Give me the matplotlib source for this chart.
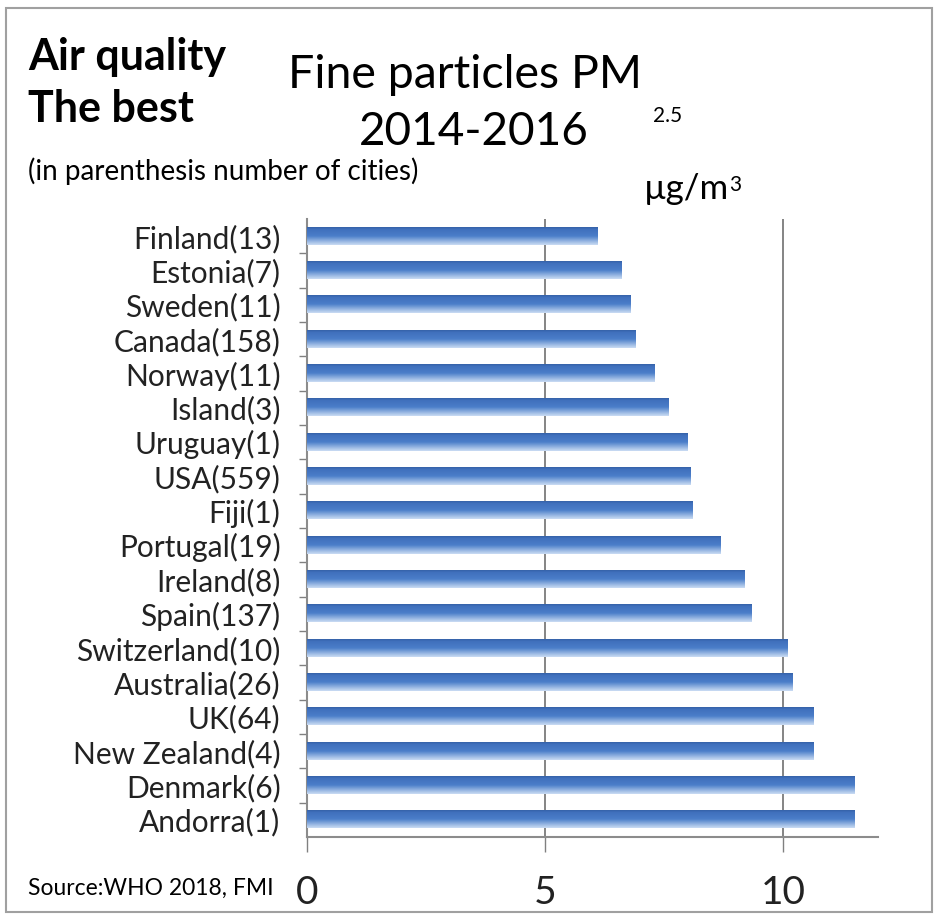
import numpy as np
import matplotlib
matplotlib.use("Agg")
import matplotlib.pyplot as plt
from matplotlib.colors import LinearSegmentedColormap
from matplotlib.patches import Rectangle

# data, top to bottom as in the chart
countries = ["Finland(13)", "Estonia(7)", "Sweden(11)", "Canada(158)", "Norway(11)",
             "Island(3)", "Uruguay(1)", "USA(559)", "Fiji(1)", "Portugal(19)",
             "Ireland(8)", "Spain(137)", "Switzerland(10)", "Australia(26)",
             "UK(64)", "New Zealand(4)", "Denmark(6)", "Andorra(1)"]
pm25 = [6.1, 6.6, 6.8, 6.9, 7.3, 7.6, 8.0, 8.05, 8.1, 8.7,
        9.2, 9.35, 10.1, 10.2, 10.65, 10.65, 11.5, 11.5]
xticks = [0, 5, 10]

plt.rcParams['font.family'] = ['Lato', 'DejaVu Sans']

W, H = 936, 915
fig = plt.figure(figsize=(W / 100, H / 100), dpi=100)

def px(x, y):
    return x / W, 1 - y / H

# frame round the picture
fig.patches.append(Rectangle(px(6, 912), (932 - 6) / W, (912 - 8) / H,
                             transform=fig.transFigure, fill=False,
                             edgecolor="#a0a0a0", lw=1.5))

ax = fig.add_axes([307 / W, 1 - 837 / H, (878 - 307) / W, (837 - 219) / H])

n = len(countries)
ypos = np.arange(n)[::-1]
h = 0.5

# vertical gradient on each bar, dark top edge fading to light bottom
grad = LinearSegmentedColormap.from_list(
    "bar", [(0, "#3562a8"), (0.12, "#4070bd"), (0.5, "#4b7ec9"), (1.0, "#cadcf3")])
g = np.linspace(0, 1, 64).reshape(-1, 1)

for y, v in zip(ypos, pm25):
    ax.imshow(g, cmap=grad, aspect="auto", origin="upper",
              extent=(0, v, y - h / 2, y + h / 2), interpolation="bilinear", zorder=3)

ax.set_xlim(0, 12)
ax.set_ylim(-0.5, n - 0.5)

ax.set_yticks(ypos)
ax.set_yticklabels(countries, fontsize=21.5, color="#222222")
ax.set_yticks(np.arange(n - 1) + 0.5, minor=True)
ax.tick_params(axis="y", which="major", length=0, pad=19)
ax.tick_params(axis="y", which="minor", length=6, color="#808080", width=1)

ax.set_xticks(xticks)
ax.set_xticklabels([str(t) for t in xticks], fontsize=28, color="#222222")
ax.tick_params(axis="x", length=11, color="#808080", width=1, pad=16)

for x in xticks[1:]:
    ax.axvline(x, color="#707070", lw=1.2, zorder=1)

for s in ["top", "right"]:
    ax.spines[s].set_visible(False)
for s in ["left", "bottom"]:
    ax.spines[s].set_color("#8c8c8c")
    ax.spines[s].set_linewidth(1.5)

# texts
fig.text(*px(28, 70), "Air quality", fontsize=31, fontweight="bold", va="baseline")
fig.text(*px(28, 122), "The best", fontsize=31, fontweight="bold", va="baseline")
fig.text(*px(288, 88), "Fine particles PM", fontsize=33.5, va="baseline")
fig.text(*px(653, 122), "2.5", fontsize=15, va="baseline")
fig.text(*px(474, 145), "2014-2016", fontsize=33, ha="center", va="baseline")
fig.text(*px(28, 180), "(in parenthesis number of cities)", fontsize=20, va="baseline")
fig.text(*px(644, 199), "\u00b5g/m", fontsize=25, va="baseline")
fig.text(*px(729, 191), "3", fontsize=15, va="baseline")
fig.text(*px(28, 895), "Source:WHO 2018, FMI", fontsize=16.5, va="baseline")

fig.savefig("out.png", dpi=100)
